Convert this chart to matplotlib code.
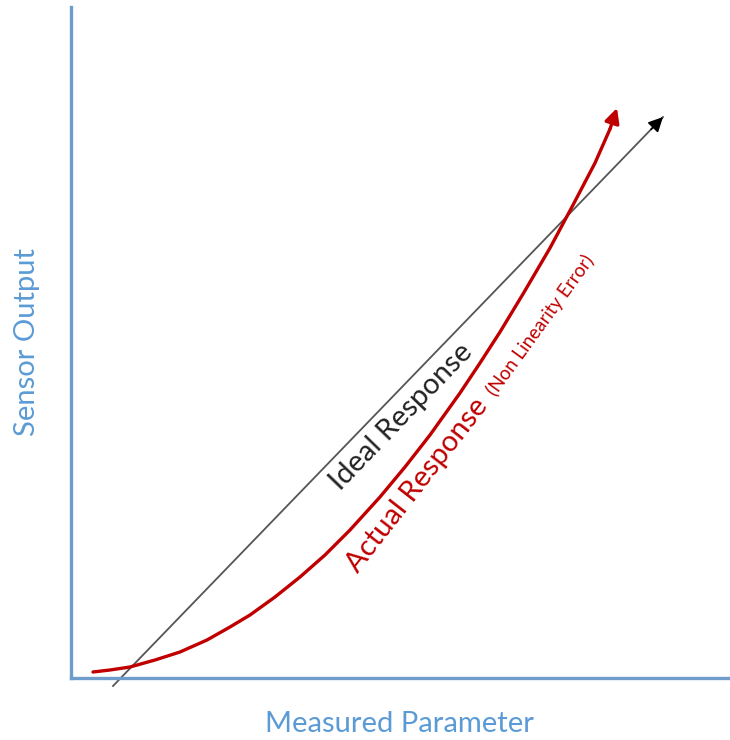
import matplotlib.pyplot as plt

# values (axis units, origin at the corner of the axes)
ideal_x = [42, 592]
ideal_y = [-8, 561]

actual_x = [22, 39, 59, 84, 109, 136, 159, 179, 204, 229, 254, 279, 309,
            334, 359, 389, 409, 429, 452, 479, 502, 524, 539]
actual_y = [6, 8, 11, 18, 26, 38, 51, 63, 81, 101, 123, 148, 181,
            211, 243, 285, 315, 346, 384, 430, 473, 515, 549]
actual_tip = (546, 570)

axis_blue = '#6F9CCB'
text_blue = '#5B9BD5'
red = '#C00000'

plt.rcParams['font.family'] = ['Lato', 'DejaVu Sans']

fig = plt.figure(figsize=(7.3, 7.4), dpi=100)
ax = fig.add_axes([71 / 730, 62 / 740, 657 / 730, 671 / 740])
ax.set_xlim(0, 657)
ax.set_ylim(0, 671)

for s in ['top', 'right']:
    ax.spines[s].set_visible(False)
for s in ['left', 'bottom']:
    ax.spines[s].set_color(axis_blue)
    ax.spines[s].set_linewidth(2.4)
ax.set_xticks([])
ax.set_yticks([])

# ideal response, thin grey line with black head
ax.plot(ideal_x, ideal_y, color='#555555', lw=1.3, clip_on=False)
ax.annotate('', xy=(ideal_x[1], ideal_y[1]),
            xytext=(ideal_x[1] - 12, ideal_y[1] - 12.4),
            arrowprops=dict(arrowstyle='-|>', color='black', lw=1.2,
                            mutation_scale=22, shrinkA=0, shrinkB=0),
            annotation_clip=False)

# actual response, red curve
ax.plot(actual_x, actual_y, color=red, lw=2.4, clip_on=False,
        solid_capstyle='round', solid_joinstyle='round')
ax.annotate('', xy=actual_tip, xytext=(actual_x[-1], actual_y[-1]),
            arrowprops=dict(arrowstyle='-|>', color=red, lw=2.4,
                            mutation_scale=22, shrinkA=0, shrinkB=0),
            annotation_clip=False)

ax.text(330, 261, 'Ideal Response', fontsize=21, color='#222222',
        rotation=46, rotation_mode='anchor', ha='center', va='center')
ax.text(346, 193, 'Actual Response', fontsize=21, color=red,
        rotation=52, rotation_mode='anchor', ha='center', va='center')
ax.text(469, 353, '(Non Linearity Error)', fontsize=13.5, color=red,
        rotation=54, rotation_mode='anchor', ha='center', va='center')

ax.set_xlabel('Measured Parameter', fontsize=21, color=text_blue, labelpad=24)
ax.set_ylabel('Sensor Output', fontsize=21, color=text_blue, labelpad=22)

fig.savefig('out.png', dpi=100)
